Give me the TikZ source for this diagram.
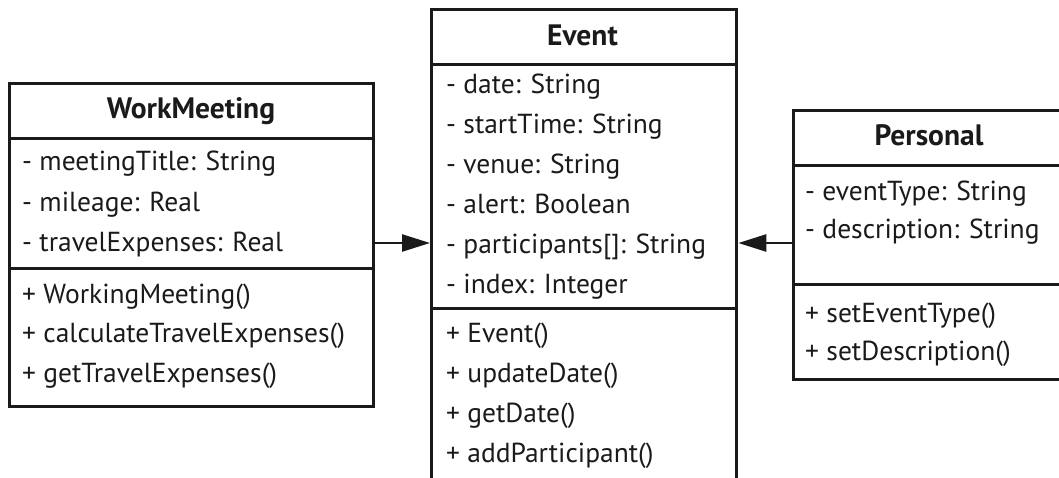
\documentclass[tikz,border=0pt]{standalone}
\usepackage{fontspec}
\setmainfont{PT Sans}
\usetikzlibrary{arrows.meta}
\definecolor{ink}{HTML}{1A1A1A}
\begin{document}
\begin{tikzpicture}[x=1pt,y=-1pt,
 part/.style={draw=ink, line width=3.3pt, inner sep=0pt, anchor=north west},
 title/.style={font=\fontsize{29.5}{33}\selectfont\bfseries, text=ink, anchor=base, inner sep=0pt},
 member/.style={font=\fontsize{27.5}{31}\selectfont, text=ink, anchor=base west, inner sep=0pt},
 link/.style={draw=ink, line width=2.5pt, -{Triangle[length=28pt,width=17pt]}}]
\useasboundingbox (0,0) rectangle (1059,477);
\clip (0,0) rectangle (1059,477);
% WorkMeeting
\node[part, minimum width=364pt, minimum height=55pt] (wmH) at (8,82) {};
\node[part, minimum width=364pt, minimum height=130pt] (wmA) at (8,137) {};
\node[part, minimum width=364pt, minimum height=138pt] (wmM) at (8,267) {};
\node[title] (wmT) at (191,118) {WorkMeeting};
\node[member] (wm1) at (22,170) {- meetingTitle: String};
\node[member] (wm2) at (22,211) {- mileage: Real};
\node[member] (wm3) at (22,251) {- travelExpenses: Real};
\node[member] (wm4) at (22,303) {+ WorkingMeeting()};
\node[member] (wm5) at (22,342) {+ calculateTravelExpenses()};
\node[member] (wm6) at (22,382) {+ getTravelExpenses()};
% Event
\node[part, minimum width=305pt, minimum height=55pt] (evH) at (430,8) {};
\node[part, minimum width=305pt, minimum height=244pt] (evA) at (430,63) {};
\node[part, minimum width=305pt, minimum height=200pt] (evM) at (430,307) {};
\node[title] (evT) at (582.5,45) {Event};
\node[member] (ev1) at (446,93) {- date: String};
\node[member] (ev2) at (446,133) {- startTime: String};
\node[member] (ev3) at (446,173) {- venue: String};
\node[member] (ev4) at (446,213) {- alert: Boolean};
\node[member] (ev5) at (446,253) {- participants[]: String};
\node[member] (ev6) at (446,293) {- index: Integer};
\node[member] (ev7) at (446,342) {+ Event()};
\node[member] (ev8) at (446,382) {+ updateDate()};
\node[member] (ev9) at (446,422) {+ getDate()};
\node[member] (ev10) at (446,462) {+ addParticipant()};
% Personal
\node[part, minimum width=290pt, minimum height=55pt] (peH) at (792,109) {};
\node[part, minimum width=290pt, minimum height=119pt] (peA) at (792,164) {};
\node[part, minimum width=290pt, minimum height=95pt] (peM) at (792,283) {};
\node[title] (peT) at (929,145) {Personal};
\node[member] (pe1) at (805,200) {- eventType: String};
\node[member] (pe2) at (805,238) {- description: String};
\node[member] (pe3) at (805,322) {+ setEventType()};
\node[member] (pe4) at (805,360) {+ setDescription()};
% connectors
\coordinate (lvl) at (0,243);
\draw[link] (wmA.east |- lvl) -- (evA.west |- lvl);
\draw[link] (peA.west |- lvl) -- (evA.east |- lvl);
\end{tikzpicture}
\end{document}
